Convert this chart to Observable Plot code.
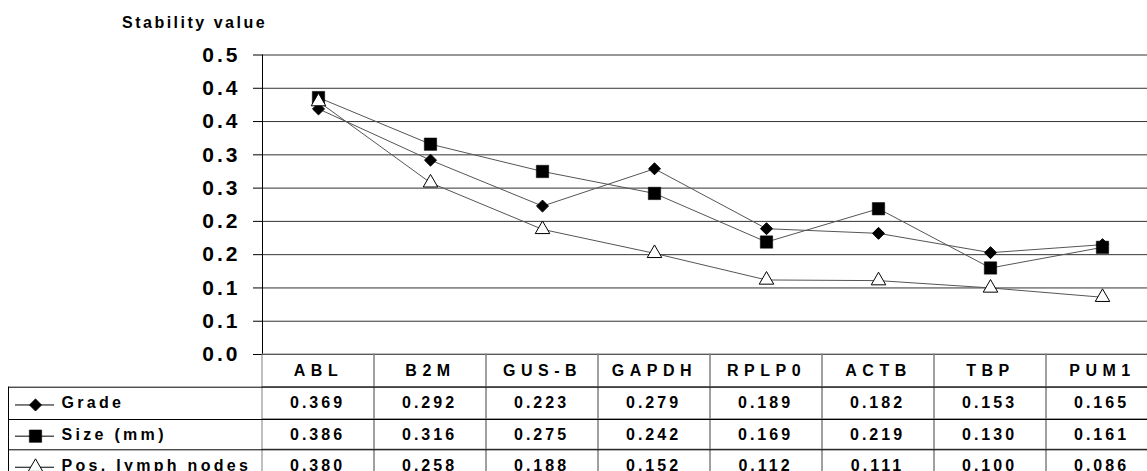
<!DOCTYPE html>
<html><head><meta charset="utf-8">
<script src="https://cdn.jsdelivr.net/npm/d3@7"></script>
<script src="https://cdn.jsdelivr.net/npm/@observablehq/plot@0.6"></script>
<style>
html,body{margin:0;padding:0;background:#fff;overflow:hidden;width:1147px;height:471px;}
#wrap{position:relative;width:1147px;height:471px;overflow:hidden;font-family:"Liberation Sans",Arial,sans-serif;}
#title{position:absolute;left:122px;top:14px;font-size:16px;font-weight:bold;letter-spacing:2.5px;color:#000;white-space:nowrap;}
#wrap svg{position:absolute;left:0;}
</style></head><body><div id="wrap"><div id="title">Stability value</div></div>
<script>
const categories = ["ABL","B2M","GUS-B","GAPDH","RPLP0","ACTB","TBP","PUM1"];
const seriesNames = ["Grade","Size (mm)","Pos. lymph nodes"];
const gradeValues = [0.369,0.292,0.223,0.279,0.189,0.182,0.153,0.165];
const sizeValues  = [0.386,0.316,0.275,0.242,0.169,0.219,0.130,0.161];
const lymphValues = [0.380,0.258,0.188,0.152,0.112,0.111,0.100,0.086];
const yTicks = [0,0.05,0.1,0.15,0.2,0.25,0.3,0.35,0.4,0.45];
const yTickLabels = ["0.0","0.1","0.1","0.2","0.2","0.3","0.3","0.4","0.4","0.5"];

const seriesValues = [gradeValues, sizeValues, lymphValues];
const data = seriesNames.flatMap((s, si) => categories.map((c, i) => ({series: s, cat: c, value: seriesValues[si][i]})));
const fmt = d3.format(".3f");

const W = 1158;
const FONT = "Liberation Sans, Arial, sans-serif";
const markerStyle = {
  "Grade": {symbol: "diamond2", r: 5.4, fill: "#000", stroke: "#000", strokeWidth: 1},
  "Size (mm)": {symbol: "square", r: 7, fill: "#000", stroke: "#000", strokeWidth: 0.5},
  "Pos. lymph nodes": {symbol: "triangle", r: 5.4, fill: "#fff", stroke: "#000", strokeWidth: 1}
};
const baseStyle = {fontFamily: FONT, fontWeight: "bold", color: "#000", background: "transparent", maxWidth: "none", overflow: "visible"};

const wrap = document.getElementById("wrap");

// Chart
const chart = Plot.plot({
  width: W, height: 356, marginLeft: 262, marginRight: 0, marginTop: 54.5, marginBottom: 2,
  style: {...baseStyle, letterSpacing: "3px"},
  x: {type: "band", domain: categories, range: [262, W], padding: 0, axis: null, label: null},
  y: {domain: [0, 0.45], range: [354, 54.5], axis: null, label: null},
  marks: [
    Plot.ruleY(yTicks, {stroke: "#333", strokeWidth: 1}),
    Plot.axisY(yTicks, {label: null, tickSize: 9, tickPadding: 13, tickFormat: d => yTickLabels[yTicks.indexOf(d)], fontSize: 21, fontWeight: "bold", stroke: "#000"}),
    Plot.frame({anchor: "left", stroke: "#000"}),
    Plot.line(data, {x: "cat", y: "value", z: "series", stroke: "#555", strokeWidth: 1}),
    ...seriesNames.map(s => Plot.dot(data.filter(d => d.series === s), {x: "cat", y: "value", ...markerStyle[s]}))
  ]
});
chart.style.top = "0px";
wrap.appendChild(chart);

// Table (values): row index scale, rows of slightly different heights as in the source
const rowCount = seriesNames.length + 1;
const rowIndex = d3.range(rowCount + 1);
const rowRange = [0, 32.7, 65, 95.3, 127];
const cells = d3.range(rowCount).flatMap(ri => categories.map((c, ci) => ({
  cat: c, row: ri, text: ri === 0 ? c : fmt(seriesValues[ri - 1][ci])
})));
const table = Plot.plot({
  width: W, height: 128, marginLeft: 262, marginRight: 0, marginTop: 0, marginBottom: 0,
  style: {...baseStyle},
  x: {type: "band", domain: categories, range: [262, W], padding: 0, axis: null},
  y: {type: "linear", domain: rowIndex, range: rowRange, axis: null},
  marks: [
    Plot.barY(cells, {x: "cat", y1: "row", y2: d => d.row + 1, fill: "none", stroke: "#808080", strokeWidth: 1, inset: 0}),
    Plot.ruleY(d3.range(1, rowCount + 1), {stroke: "#000", strokeWidth: 1}),
    Plot.text(cells.filter(d => d.row === 0), {x: "cat", y: d => d.row + 0.5, text: "text", fontSize: 16, fontWeight: "bold", fill: "#000", dx: 0}),
    Plot.text(cells.filter(d => d.row > 0), {x: "cat", y: d => d.row + 0.5, text: "text", fontSize: 16, fontWeight: "bold", fill: "#000", dx: -1})
  ]
});
table.style.top = "354px";
const textGroups = table.querySelectorAll('g[aria-label="text"]');
if (textGroups[0]) textGroups[0].style.letterSpacing = "5.5px";
if (textGroups[1]) textGroups[1].style.letterSpacing = "3px";
wrap.appendChild(table);

// Legend column of the table
const legend = Plot.plot({
  width: 262, height: 128, marginLeft: 0, marginRight: 0, marginTop: 0, marginBottom: 0,
  style: {...baseStyle, letterSpacing: "3.3px"},
  x: {domain: [0, 262], range: [0, 262], axis: null},
  y: {type: "linear", domain: rowIndex, range: rowRange, axis: null},
  marks: [
    Plot.ruleY(d3.range(1, rowCount + 1), {x1: 8, x2: 262, stroke: "#000"}),
    Plot.ruleX([8], {y1: 1, y2: rowCount, stroke: "#000"}),
    Plot.ruleY(seriesNames, {y: (d, i) => i + 1.55, x1: 15, x2: 54, stroke: "#000"}),
    ...seriesNames.map((s, i) => Plot.dot([s], {x: () => 35, y: () => i + 1.55, ...markerStyle[s]})),
    Plot.text(seriesNames, {x: () => 61, y: (d, i) => i + 1.5, text: d => d, textAnchor: "start", fontSize: 16, fontWeight: "bold", fill: "#000"})
  ]
});
legend.style.top = "354px";
wrap.appendChild(legend);
</script></body></html>
